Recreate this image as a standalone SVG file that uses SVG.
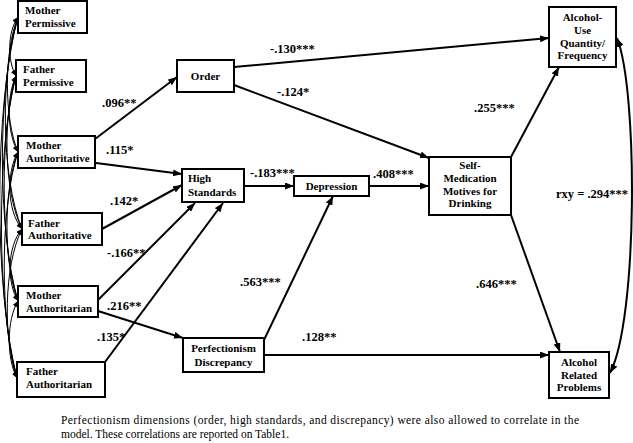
<svg xmlns="http://www.w3.org/2000/svg" width="633" height="443" viewBox="0 0 633 443" font-family="'Liberation Serif', 'Times New Roman', Times, 'DejaVu Serif', serif">
<style>
text{font-family:'Liberation Serif', 'Times New Roman', Times, 'DejaVu Serif', serif}
.box{fill:#fff;stroke:#000;stroke-width:2}
.nt{font-weight:bold;font-size:11px;fill:#000}
.c{text-anchor:middle}
.lb{font-weight:bold;font-size:12.5px;fill:#000}
.cap{font-size:11.5px;fill:#000}
.ln{fill:none;stroke:#000;stroke-width:2;marker-end:url(#ah)}
.cv{fill:none;stroke:#000;stroke-width:1;marker-start:url(#sa);marker-end:url(#sa)}
</style>
<defs>
<marker id="ah" markerUnits="userSpaceOnUse" markerWidth="9" markerHeight="7" refX="9" refY="3.5" orient="auto-start-reverse"><path d="M0,0 L9,3.5 L0,7 z" fill="#000"/></marker>
<marker id="sa" markerUnits="userSpaceOnUse" markerWidth="6" markerHeight="5" refX="6" refY="2.5" orient="auto-start-reverse"><path d="M0,0 L6,2.5 L0,5 z" fill="#000"/></marker>
</defs>
<g id="connectors">
<path class="cv" d="M18,17 C7.3,32 7.3,61 16,76"/>
<path class="cv" d="M18,17 C3.9,51 3.9,118 18,152"/>
<path class="cv" d="M18,17 C0.5,70 0.5,176 22,229"/>
<path class="cv" d="M18,17 C-2.8,88 -2.8,230 18,301"/>
<path class="cv" d="M18,17 C-6.2,107 -6.2,288 17,378"/>
<path class="cv" d="M16,76 C6.6,95 6.6,133 18,152"/>
<path class="cv" d="M16,76 C3.1,114 3.1,191 22,229"/>
<path class="cv" d="M16,76 C-0.1,132 -0.1,245 18,301"/>
<path class="cv" d="M16,76 C-3.6,151 -3.6,303 17,378"/>
<path class="cv" d="M18,152 C6.5,171 6.5,210 22,229"/>
<path class="cv" d="M18,152 C3.3,189 3.3,264 18,301"/>
<path class="cv" d="M18,152 C-0.2,208 -0.2,322 17,378"/>
<path class="cv" d="M22,229 C6.8,247 6.8,283 18,301"/>
<path class="cv" d="M22,229 C3.3,266 3.3,341 17,378"/>
<path class="cv" d="M18,301 C6.5,320 6.5,359 17,378"/>
<path class="ln" d="M95,139 L177,77"/>
<path class="ln" d="M96,163 L182,174"/>
<path class="ln" d="M102,229 L182,185"/>
<path class="ln" d="M98,300 L195,203"/>
<path class="ln" d="M105,362 L223,203"/>
<path class="ln" d="M98,311 L183,338"/>
<path class="ln" d="M234,67 L549,38"/>
<path class="ln" d="M234,85 L429,158"/>
<path class="ln" d="M244,186 L294,186"/>
<path class="ln" d="M369,186 L429,186"/>
<path class="ln" d="M264,340 L333,196"/>
<path class="ln" d="M264,355 L549,355"/>
<path class="ln" d="M511,157 L559,67"/>
<path class="ln" d="M511,215 L560,352"/>
<path fill="none" stroke="#000" stroke-width="2" marker-start="url(#ah)" marker-end="url(#ah)" d="M617,38 C638,90 638,320 610,373"/>
</g>
<g id="labels">
<text class="lb" x="270" y="53">-.130***</text>
<text class="lb" x="277" y="96">-.124*</text>
<text class="lb" x="102" y="107">.096**</text>
<text class="lb" x="106" y="154">.115*</text>
<text class="lb" x="110" y="205">.142*</text>
<text class="lb" x="107" y="257">-.166**</text>
<text class="lb" x="107" y="310">.216**</text>
<text class="lb" x="97" y="341">.135*</text>
<text class="lb" x="250" y="177">-.183***</text>
<text class="lb" x="373" y="178">.408***</text>
<text class="lb" x="240" y="286">.563***</text>
<text class="lb" x="302" y="341">.128**</text>
<text class="lb" x="474" y="112">.255***</text>
<text class="lb" x="556" y="198">rxy = .294***</text>
<text class="lb" x="476" y="288">.646***</text>
</g>
<g id="mother-permissive"><rect class="box" x="18" y="1" width="69" height="32"/><text class="nt" x="25" y="14">Mother</text><text class="nt" x="25" y="27">Permissive</text></g>
<g id="father-permissive"><rect class="box" x="16" y="60" width="70" height="32"/><text class="nt" x="23" y="73">Father</text><text class="nt" x="23" y="86">Permissive</text></g>
<g id="mother-authoritative"><rect class="box" x="18" y="136" width="77" height="32"/><text class="nt" x="26" y="149">Mother</text><text class="nt" x="26" y="162">Authoritative</text></g>
<g id="father-authoritative"><rect class="box" x="22" y="213" width="80" height="32"/><text class="nt" x="28" y="227">Father</text><text class="nt" x="28" y="239">Authoritative</text></g>
<g id="mother-authoritarian"><rect class="box" x="18" y="286" width="80" height="31"/><text class="nt" x="26" y="299">Mother</text><text class="nt" x="26" y="312">Authoritarian</text></g>
<g id="father-authoritarian"><rect class="box" x="17" y="362" width="88" height="35"/><text class="nt" x="26" y="375">Father</text><text class="nt" x="26" y="388">Authoritarian</text></g>
<g id="order"><rect class="box" x="177" y="60" width="57" height="32"/><text class="nt c" x="205.5" y="80">Order</text></g>
<g id="high-standards"><rect class="box" x="182" y="169" width="62" height="33"/><text class="nt" x="188" y="182">High</text><text class="nt" x="188" y="196">Standards</text></g>
<g id="depression"><rect class="box" x="294" y="176" width="75" height="20"/><text class="nt c" x="331.5" y="190">Depression</text></g>
<g id="perfectionism-discrepancy"><rect class="box" x="183" y="338" width="81" height="34"/><text class="nt c" x="223.5" y="352">Perfectionism</text><text class="nt c" x="223.5" y="366">Discrepancy</text></g>
<g id="self-medication"><rect class="box" x="429" y="157" width="82" height="58"/><text class="nt c" x="470" y="169">Self-</text><text class="nt c" x="470" y="182">Medication</text><text class="nt c" x="470" y="195">Motives for</text><text class="nt c" x="470" y="207">Drinking</text></g>
<g id="alcohol-use"><rect class="box" x="549" y="7" width="67" height="60"/><text class="nt c" x="582.5" y="21">Alcohol-</text><text class="nt c" x="582.5" y="34">Use</text><text class="nt c" x="582.5" y="46.5">Quantity/</text><text class="nt c" x="582.5" y="59">Frequency</text></g>
<g id="alcohol-problems"><rect class="box" x="549" y="352" width="60" height="46"/><text class="nt c" x="579" y="366">Alcohol</text><text class="nt c" x="579" y="379">Related</text><text class="nt c" x="579" y="391">Problems</text></g>
<g id="caption">
<text class="cap" x="61" y="424" textLength="518" lengthAdjust="spacing">Perfectionism dimensions (order, high standards, and discrepancy) were also allowed to correlate in the</text>
<text class="cap" x="61" y="438">model. These correlations are reported on Table1.</text>
</g>
</svg>
